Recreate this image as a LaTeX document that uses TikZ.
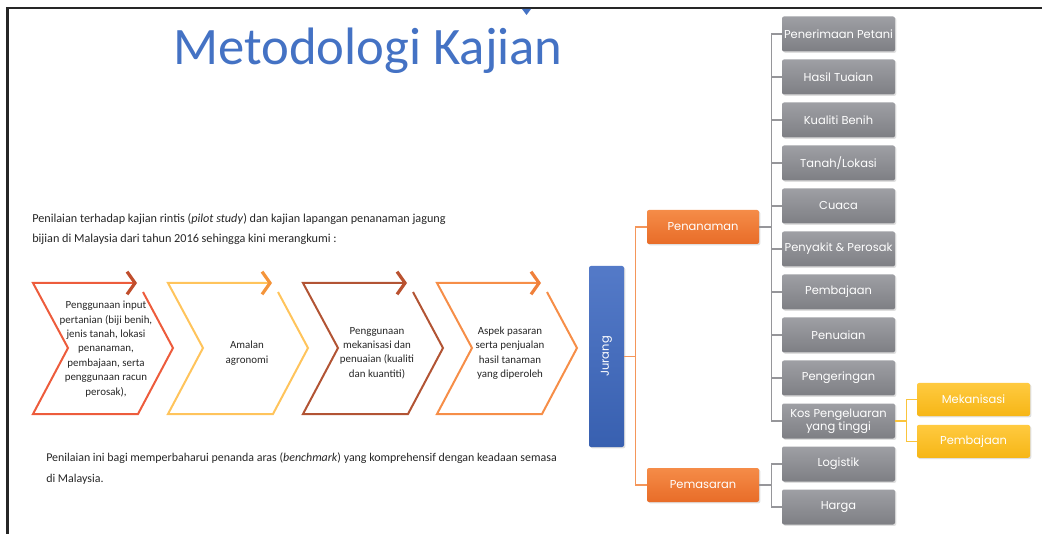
\documentclass[tikz,border=0pt]{standalone}
\usepackage{fontspec}
\setmainfont{Carlito}
\newfontfamily\gothic{Poppins}
\usetikzlibrary{arrows.meta, positioning, shadows, calc}
\definecolor{framegray}{RGB}{38, 38, 38}
\definecolor{titleblue}{RGB}{68, 114, 196}
\definecolor{chevA}{RGB}{237, 92, 60}
\definecolor{chevAtip}{RGB}{192, 78, 44}
\definecolor{chevB}{RGB}{255, 196, 92}
\definecolor{chevBtip}{RGB}{244, 148, 58}
\definecolor{chevC}{RGB}{178, 84, 52}
\definecolor{chevCtip}{RGB}{186, 82, 48}
\definecolor{chevD}{RGB}{246, 142, 72}
\definecolor{chevDtip}{RGB}{240, 128, 58}
\definecolor{boxgrayT}{RGB}{158, 159, 164}
\definecolor{boxgrayB}{RGB}{126, 127, 132}
\definecolor{boxorT}{RGB}{245, 140, 72}
\definecolor{boxorB}{RGB}{232, 108, 40}
\definecolor{boxblT}{RGB}{84, 122, 200}
\definecolor{boxblB}{RGB}{56, 96, 176}
\definecolor{boxyeT}{RGB}{255, 202, 64}
\definecolor{boxyeB}{RGB}{246, 182, 22}
\definecolor{lineorange}{RGB}{244, 150, 90}
\definecolor{linegray}{RGB}{150, 150, 154}
\definecolor{lineyellow}{RGB}{250, 196, 60}

\begin{document}
\begin{tikzpicture}[
        x=0.75pt, y=-0.75pt,
        node distance=5.6pt,
        frame/.style={line width=2.2pt, draw=framegray},
        chevline/.style={line width=1.5pt, line join=miter},
        chevtext/.style={font=\fontsize{8.2}{10.8}\selectfont, align=center, text=black!85},
        bodytext/.style={font=\fontsize{9.15}{15.5}\selectfont, align=left, anchor=north west, inner sep=0pt, text=black!85},
        tree/.style={rounded corners=1.5pt, text=white, align=center, inner sep=1pt,
          font=\gothic\fontsize{8.6}{9.8}\selectfont, drop shadow={opacity=0.25, shadow xshift=1pt, shadow yshift=-1pt}},
        graybox/.style={tree, top color=boxgrayT, bottom color=boxgrayB, minimum width=84.75pt, minimum height=26.25pt},
        orbox/.style={tree, top color=boxorT, bottom color=boxorB, minimum width=84pt, minimum height=25.5pt},
        yelbox/.style={tree, top color=boxyeT, bottom color=boxyeB, minimum width=84.75pt, minimum height=24.75pt},
        blbox/.style={tree, top color=boxblT, bottom color=boxblB, minimum width=26.25pt, minimum height=135.75pt},
        link/.style={line width=0.9pt}
      ]
        \useasboundingbox (0,0) rectangle (1042,534);
        % slide frame
        \draw[frame] (7.5,534) -- (7.5,8) -- (1042,8);
        \fill[titleblue] (522,9) -- (531,9) -- (526.5,15) -- cycle;
        \node[font=\fontsize{39.5}{41}\selectfont, text=titleblue] (title) at (368,51) {Metodologi Kajian};

        \node[bodytext] (intro) at (32,213) {Penilaian terhadap kajian rintis (\textit{pilot study}) dan kajian lapangan penanaman jagung\\
          bijian di Malaysia dari tahun 2016 sehingga kini merangkumi :};
        \node[bodytext, font=\fontsize{8.95}{15.5}\selectfont] (outro) at (46,453) {Penilaian ini bagi memperbaharui penanda aras (\textit{benchmark}) yang komprehensif dengan keadaan semasa\\
          di Malaysia.};

        % chevrons
        \foreach \cx/\cc/\ct in {33/chevA/chevAtip, 168/chevB/chevBtip, 303/chevC/chevCtip, 437/chevD/chevDtip} {
          \draw[chevline, \cc] (\cx+110,292) -- (\cx+140,348) -- (\cx+105,414) -- (\cx,414) -- (\cx+35,348) -- (\cx,283) -- (\cx+98,283);
          \draw[chevline, \cc, -{Straight Barb[length=6pt, width=17pt, line width=2.4pt, color=\ct]}] (\cx+60,283) -- (\cx+104,283);
        }
        \node[chevtext] (input) at (106,349) {Penggunaan input\\pertanian (biji benih,\\jenis tanah, lokasi\\penanaman,\\pembajaan, serta\\penggunaan racun\\perosak),};
        \node[chevtext] (agro) at (247,353) {Amalan\\agronomi};
        \node[chevtext] (mekan) at (377,353) {Penggunaan\\mekanisasi dan\\penuaian (kualiti\\dan kuantiti)};
        \node[chevtext] (pasar) at (510,353) {Aspek pasaran\\serta penjualan\\hasil tanaman\\yang diperoleh};

        % tree
        \node[blbox] (jurang) at (606.5,356.5) {\rotatebox{90}{Jurang}};
        \node[orbox] (tanam) at (703,227) {Penanaman};
        \node[orbox] (pasaran) at (703,485) {Pemasaran};

        \node[graybox] (terima) at (838.5,34) {Penerimaan Petani};
        \node[graybox, below=of terima] (tuai) {Hasil Tuaian};
        \node[graybox, below=of tuai] (benih) {Kualiti Benih};
        \node[graybox, below=of benih] (tanah) {Tanah/Lokasi};
        \node[graybox, below=of tanah] (cuaca) {Cuaca};
        \node[graybox, below=of cuaca] (perosak) {Penyakit \& Perosak};
        \node[graybox, below=of perosak] (baja) {Pembajaan};
        \node[graybox, below=of baja] (penuaian) {Penuaian};
        \node[graybox, below=of penuaian] (kering) {Pengeringan};
        \node[graybox, below=of kering] (kos) {Kos Pengeluaran\\yang tinggi};
        \node[graybox, below=of kos] (logistik) {Logistik};
        \node[graybox, below=of logistik] (harga) {Harga};

        \node[yelbox] (mesin) at (973.5,399.5) {Mekanisasi};
        \node[yelbox, below=6.2pt of mesin] (bajakos) {Pembajaan};

        \foreach \b in {tanam, pasaran}
          \draw[link, lineorange] (jurang.east) -- +(11,0) |- (\b.west);
        \foreach \b in {terima, tuai, benih, tanah, cuaca, perosak, baja, penuaian, kering, kos}
          \draw[link, linegray] (tanam.east) -- +(12,0) |- (\b.west);
        \foreach \b in {logistik, harga}
          \draw[link, linegray] (pasaran.east) -- +(12,0) |- (\b.west);
        \foreach \b in {mesin, bajakos}
          \draw[link, lineyellow] (kos.east) -- +(11,0) |- (\b.west);
      \end{tikzpicture}
\end{document}
